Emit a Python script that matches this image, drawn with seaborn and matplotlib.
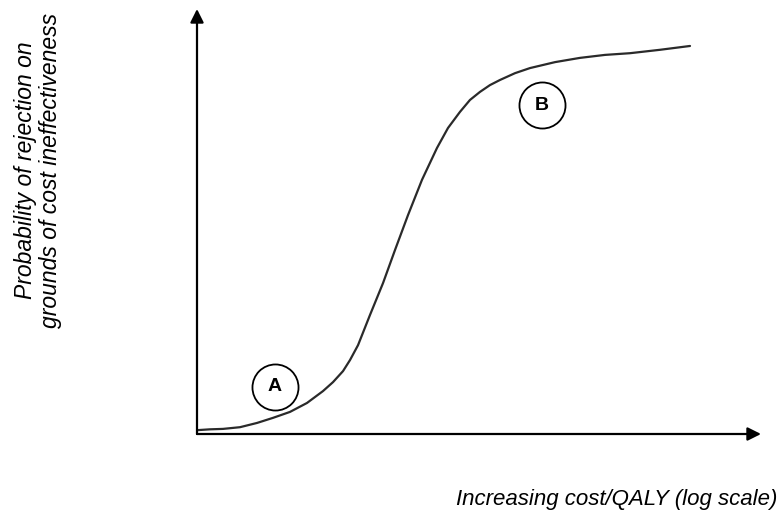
import pandas as pd
import matplotlib.pyplot as plt
import seaborn as sns

# Curve values (x: log cost/QALY units, y: probability)
cost_log = [0.000, 0.230, 0.461, 0.762, 1.064, 1.348, 1.649, 1.950, 2.234, 2.411,
            2.589, 2.713, 2.855, 3.067, 3.298, 3.511, 3.741, 3.989, 4.255, 4.450,
            4.663, 4.840, 5.018, 5.195, 5.372, 5.638, 5.904, 6.348, 6.791, 7.234,
            7.677, 8.209, 8.741]
prob_reject = [0.009, 0.011, 0.012, 0.016, 0.026, 0.038, 0.052, 0.073, 0.101, 0.122,
               0.148, 0.174, 0.209, 0.280, 0.355, 0.433, 0.515, 0.598, 0.673, 0.720,
               0.758, 0.786, 0.805, 0.821, 0.833, 0.849, 0.861, 0.875, 0.885, 0.892,
               0.896, 0.904, 0.913]

# Circled region markers
region_labels = ['A', 'B']
region_x = [1.38, 6.12]
region_y = [0.111, 0.774]

curve = pd.DataFrame({'cost': cost_log, 'prob': prob_reject})
regions = pd.DataFrame({'label': region_labels, 'x': region_x, 'y': region_y})

sns.set_style('white')
font = ['Liberation Sans', 'DejaVu Sans']

fig = plt.figure(figsize=(7.83, 5.21), dpi=100)
ax = fig.add_axes([197 / 783, (521 - 434) / 521, (761 - 197) / 783, (434 - 9) / 521])

sns.lineplot(data=curve, x='cost', y='prob', ax=ax, color='#2a2a2a', linewidth=1.6,
             sort=False, solid_joinstyle='round', solid_capstyle='round')
sns.scatterplot(data=regions, x='x', y='y', ax=ax, s=1100, facecolor='white',
                edgecolor='black', linewidth=1.3, zorder=3)
for _, r in regions.iterrows():
    ax.text(r['x'], r['y'], r['label'], ha='center', va='center', fontsize=14,
            fontweight='bold', family=font, color='black', zorder=4)

ax.set_xlim(0, 10)
ax.set_ylim(0, 1)
for s in ax.spines.values():
    s.set_visible(False)
ax.set_xticks([])
ax.set_yticks([])
ax.set_xlabel('')
ax.set_ylabel('')

arrow = dict(arrowstyle='-|>', color='black', lw=1.6, mutation_scale=20,
             shrinkA=0, shrinkB=0)
ax.annotate('', xy=(0, 1), xytext=(0, 0), xycoords='axes fraction', arrowprops=arrow)
ax.annotate('', xy=(1, 0), xytext=(0, 0), xycoords='axes fraction', arrowprops=arrow)

fig.text(617 / 783, 1 - 500 / 521, 'Increasing cost/QALY (log scale)', ha='center',
         va='center', fontsize=16, style='italic', family=font, color='black')
fig.text(38 / 783, 1 - 170 / 521,
         'Probability of rejection on\ngrounds of cost ineffectiveness',
         ha='center', va='center', rotation=90, fontsize=16.5, style='italic',
         family=font, color='black', linespacing=1.15)

fig.savefig('out.png', dpi=100)
